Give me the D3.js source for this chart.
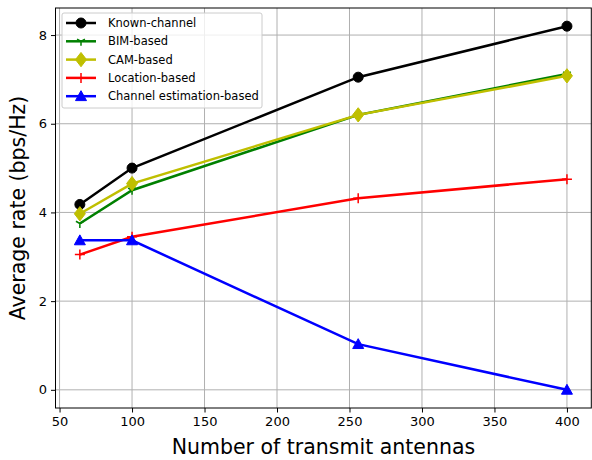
<!DOCTYPE html>
<meta charset="utf-8">
<html lang="en">
<head>
<script src="https://d3js.org/d3.v7.min.js"></script>
<style>
  body { margin: 0; background: #fff; }
  text { font-family: "DejaVu Sans", sans-serif; }
</style>
</head>
<body>
<svg></svg>
<script>
let width = 592, height = 460;
let margin = {left: 55.5, right: 0.7, top: 8, bottom: 52};

// data
let antennas = [64, 100, 256, 400];
let knownChannel = [4.18, 5.0, 7.05, 8.2];
let bimBased = [3.75, 4.5, 6.2, 7.12];
let camBased = [3.97, 4.65, 6.2, 7.08];
let locationBased = [3.05, 3.45, 4.32, 4.75];
let estimationBased = [3.37, 3.37, 1.03, 0.0];
let xTicks = [50, 100, 150, 200, 250, 300, 350, 400];
let yTicks = [0, 2, 4, 6, 8];

let series = [
  {name: "Known-channel", values: knownChannel, color: "#000000", marker: "circle"},
  {name: "BIM-based", values: bimBased, color: "#008000", marker: "tri_down"},
  {name: "CAM-based", values: camBased, color: "#bfbf00", marker: "diamond"},
  {name: "Location-based", values: locationBased, color: "#ff0000", marker: "plus"},
  {name: "Channel estimation-based", values: estimationBased, color: "#0000ff", marker: "triangle"}
];

let svg = d3.select("svg").attr("width", width).attr("height", height);

let x = d3.scaleLinear().domain([47.2, 416.8]).range([margin.left, width - margin.right]);
let y = d3.scaleLinear().domain([-0.41, 8.61]).range([height - margin.bottom, margin.top]);

// grid
svg.append("g").selectAll("line").data(xTicks).enter().append("line")
  .attr("x1", d => x(d)).attr("x2", d => x(d))
  .attr("y1", y.range()[0]).attr("y2", y.range()[1])
  .attr("stroke", "#b0b0b0").attr("stroke-width", 1);
svg.append("g").selectAll("line").data(yTicks).enter().append("line")
  .attr("y1", d => y(d)).attr("y2", d => y(d))
  .attr("x1", x.range()[0]).attr("x2", x.range()[1])
  .attr("stroke", "#b0b0b0").attr("stroke-width", 1);

// axes
let xAxis = svg.append("g").attr("transform", "translate(0," + y.range()[0] + ")")
  .call(d3.axisBottom(x).tickValues(xTicks).tickSize(4.5).tickPadding(4));
let yAxis = svg.append("g").attr("transform", "translate(" + x.range()[0] + ",0)")
  .call(d3.axisLeft(y).tickValues(yTicks).tickSize(4.5).tickPadding(4));
[xAxis, yAxis].forEach(a => {
  a.select(".domain").remove();
  a.selectAll("text").style("font-size", "13px").attr("fill", "#000");
  a.selectAll("line").attr("stroke", "#000").attr("stroke-width", 1);
});

// frame
svg.append("rect")
  .attr("x", x.range()[0]).attr("y", y.range()[1])
  .attr("width", x.range()[1] - x.range()[0])
  .attr("height", y.range()[0] - y.range()[1])
  .attr("fill", "none").attr("stroke", "#000").attr("stroke-width", 1);

function markerPath(type, s) {
  if (type == "circle") return d3.symbol(d3.symbolCircle, Math.PI * s * s)();
  if (type == "diamond") return "M0," + (-s * 1.3) + "L" + s + ",0L0," + (s * 1.3) + "L" + (-s) + ",0Z";
  if (type == "triangle") return "M0," + (-s) + "L" + (s) + "," + (s * 0.8) + "L" + (-s) + "," + (s * 0.8) + "Z";
  if (type == "plus") return "M" + (-s) + ",0L" + s + ",0M0," + (-s) + "L0," + s;
  if (type == "tri_down") return "M0,0L0," + s + "M0,0L" + (-s * 0.87) + "," + (-s * 0.5) + "M0,0L" + (s * 0.87) + "," + (-s * 0.5);
}
let markerSize = {circle: 5, diamond: 5.5, triangle: 5.5, plus: 5, tri_down: 4.5};

let line = d3.line().x(d => x(d[0])).y(d => y(d[1]));

series.forEach(s => {
  let pts = antennas.map((a, i) => [a, s.values[i]]);
  let g = svg.append("g");
  g.append("path").datum(pts).attr("d", line)
    .attr("fill", "none").attr("stroke", s.color).attr("stroke-width", 2.5);
  g.selectAll("path.m").data(pts).enter().append("path").attr("class", "m")
    .attr("transform", d => "translate(" + x(d[0]) + "," + y(d[1]) + ")")
    .attr("d", markerPath(s.marker, markerSize[s.marker]))
    .attr("fill", (s.marker == "plus" || s.marker == "tri_down") ? "none" : s.color)
    .attr("stroke", s.color)
    .attr("stroke-width", (s.marker == "plus" || s.marker == "tri_down") ? 1.5 : 1);
});

// legend
let lx = 62, ly = 13;
svg.append("rect").attr("x", lx).attr("y", ly).attr("width", 200).attr("height", 95)
  .attr("rx", 2).attr("fill", "#fff").attr("fill-opacity", 0.8)
  .attr("stroke", "#cccccc").attr("stroke-width", 1);
let legend = svg.selectAll("g.legendEntry").data(series).enter()
  .append("g").attr("class", "legendEntry")
  .attr("transform", (d, i) => "translate(" + lx + "," + (ly + 10 + i * 18.3) + ")");
legend.append("line").attr("x1", 4).attr("x2", 34).attr("y1", 0).attr("y2", 0)
  .attr("stroke", d => d.color).attr("stroke-width", 2.5);
legend.append("path").attr("transform", "translate(19,0)")
  .attr("d", d => markerPath(d.marker, markerSize[d.marker]))
  .attr("fill", d => (d.marker == "plus" || d.marker == "tri_down") ? "none" : d.color)
  .attr("stroke", d => d.color)
  .attr("stroke-width", d => (d.marker == "plus" || d.marker == "tri_down") ? 1.5 : 1);
legend.append("text").attr("x", 46).attr("y", 0).attr("dy", "0.35em")
  .style("font-size", "11.5px").text(d => d.name);

// axis labels
svg.append("text").attr("x", (x.range()[0] + x.range()[1]) / 2).attr("y", 454)
  .attr("text-anchor", "middle").style("font-size", "20.5px").text("Number of transmit antennas");
svg.append("text").attr("transform", "translate(25," + ((y.range()[0] + y.range()[1]) / 2) + ") rotate(-90)")
  .attr("text-anchor", "middle").style("font-size", "20.5px").text("Average rate (bps/Hz)");
</script>
</body>
</html>
